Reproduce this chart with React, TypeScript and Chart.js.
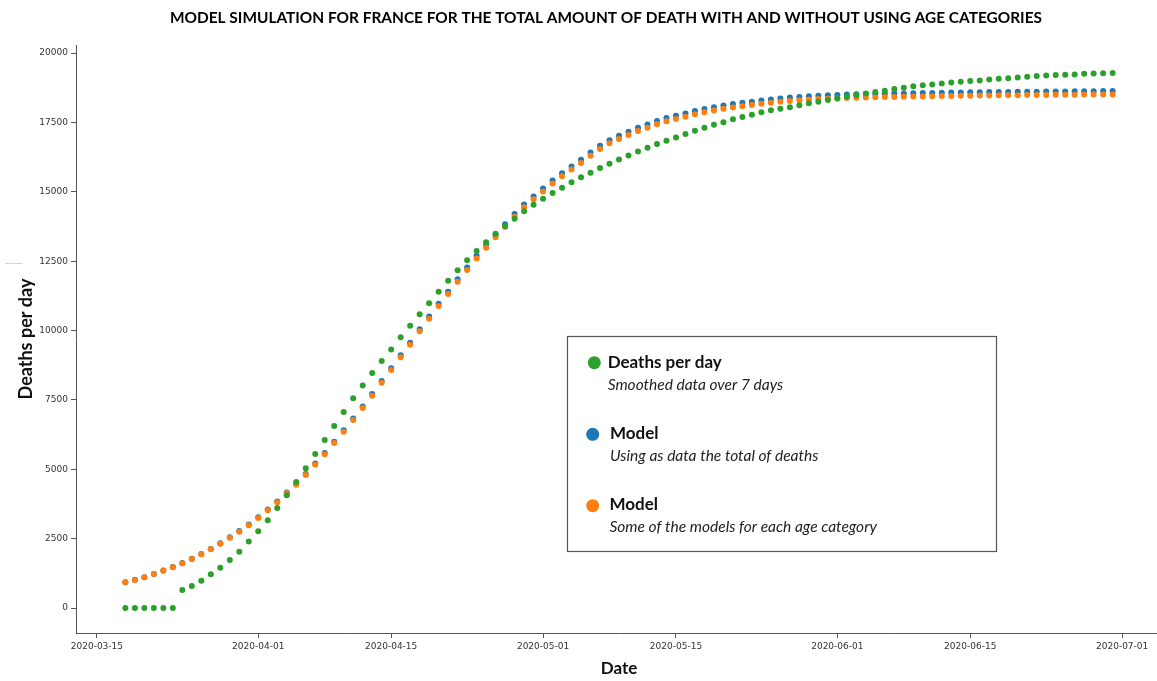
import React, { useEffect, useRef } from 'react';
import { Chart, registerables } from 'chart.js';

Chart.register(...registerables);

// ---------------- data ----------------
const startDate = '2020-03-18'; // one point per day from this date

const deathsPerDay = [
  // March 18 - 31
  0, 0, 0, 0, 0, 0, 650, 790, 985, 1215, 1450, 1730, 2030, 2400,
  // April
  2764, 3160, 3604, 4061, 4541, 5034, 5550, 6054, 6559, 7063,
  7560, 8015, 8470, 8900, 9320, 9755, 10175, 10590, 10985, 11395,
  11795, 12170, 12530, 12865, 13180, 13490, 13765, 14030, 14295, 14535,
  // May
  14750, 14955, 15150, 15340, 15520, 15690, 15860, 16010, 16165, 16310,
  16455, 16585, 16720, 16840, 16960, 17080, 17200, 17310, 17415, 17510,
  17610, 17695, 17775, 17865, 17935, 17990, 18050, 18115, 18190, 18245, 18305,
  // June
  18365, 18425, 18485, 18545, 18595, 18640, 18700, 18750, 18800, 18835,
  18870, 18905, 18940, 18965, 18990, 19015, 19050, 19075, 19095, 19120,
  19145, 19170, 19190, 19205, 19215, 19225, 19250, 19265, 19275, 19285,
];

const modelTotal = [
  // March 18 - 31
  930, 1015, 1110, 1230, 1352, 1474, 1620, 1777, 1949, 2131, 2338, 2550, 2772, 3010,
  // April
  3270, 3550, 3840, 4166, 4480, 4833, 5207, 5585, 5995, 6405,
  6830, 7265, 7712, 8180, 8643, 9106, 9564, 10047, 10505, 10967,
  11400, 11848, 12270, 12692, 13079, 13456, 13828, 14200, 14542, 14834,
  // May
  15120, 15406, 15670, 15912, 16153, 16414, 16655, 16861, 17017, 17163,
  17308, 17429, 17549, 17660, 17740, 17825, 17910, 17985, 18050, 18110,
  18160, 18205, 18248, 18290, 18330, 18365, 18395, 18420, 18442, 18460, 18476,
  // June
  18490, 18502, 18512, 18520, 18527, 18534, 18540, 18546, 18552, 18558,
  18564, 18570, 18575, 18580, 18584, 18588, 18592, 18596, 18599, 18602,
  18605, 18608, 18611, 18614, 18617, 18620, 18623, 18626, 18628, 18630,
];

const modelAgeSum = [
  // March 18 - 31
  925, 1010, 1105, 1225, 1345, 1465, 1610, 1765, 1935, 2115, 2320, 2530, 2750, 2985,
  // April
  3243, 3520, 3808, 4132, 4443, 4793, 5164, 5539, 5946, 6353,
  6775, 7207, 7650, 8115, 8575, 9035, 9490, 9970, 10425, 10884,
  11315, 11760, 12180, 12600, 12985, 13360, 13730, 14100, 14440, 14730,
  // May
  15015, 15300, 15560, 15800, 16040, 16300, 16540, 16745, 16900, 17045,
  17190, 17310, 17430, 17540, 17620, 17705, 17790, 17865, 17930, 17990,
  18040, 18085, 18128, 18170, 18210, 18245, 18275, 18300, 18322, 18340, 18356,
  // June
  18370, 18382, 18392, 18400, 18407, 18414, 18420, 18426, 18432, 18438,
  18444, 18450, 18455, 18460, 18464, 18468, 18472, 18476, 18479, 18482,
  18485, 18488, 18491, 18494, 18497, 18500, 18503, 18506, 18508, 18510,
];

const xTickDates = [
  '2020-03-15', '2020-04-01', '2020-04-15', '2020-05-01',
  '2020-05-15', '2020-06-01', '2020-06-15', '2020-07-01',
];
const yTicks = [0, 2500, 5000, 7500, 10000, 12500, 15000, 17500, 20000];
const yLimits = [-900, 20290];

const seriesLabels = ['Deaths per day', 'Model', 'Model'];
const seriesNotes = [
  'Smoothed data over 7 days',
  'Using as data the total of deaths',
  'Some of the models for each age category',
];
const seriesColors = ['#2ca02c', '#1f77b4', '#ff7f0e'];

const titleText =
  'MODEL SIMULATION FOR FRANCE FOR THE TOTAL AMOUNT OF DEATH WITH AND WITHOUT USING AGE CATEGORIES';
const xTitle = 'Date';
const yTitle = 'Deaths per day';

// ---------------- helpers ----------------
const DAY = 86400000;
const toMs = (s: string) => Date.parse(s + 'T00:00:00Z');
const dates = deathsPerDay.map((_, i) => toMs(startDate) + i * DAY);
const toPoints = (vals: number[]) => vals.map((v, i) => ({ x: dates[i], y: v }));

const xSpan = dates[dates.length - 1] - dates[0];
const xMin = dates[0] - 0.05 * xSpan;
const xMax = dates[dates.length - 1] + 0.05 * xSpan;

const FONT = 'Lato, "Open Sans", sans-serif';

const decorPlugin = {
  id: 'decor',
  afterDraw(chart: any) {
    const ctx = chart.ctx as CanvasRenderingContext2D;
    // Title
    ctx.save();
    ctx.font = `bold 16px ${FONT}`;
    const tw = ctx.measureText(titleText).width;
    ctx.translate(606, 18);
    ctx.scale(872 / tw, 1);
    ctx.fillStyle = '#000';
    ctx.textAlign = 'center';
    ctx.textBaseline = 'middle';
    ctx.fillText(titleText, 0, 0);
    ctx.restore();

    // small grey stroke left of the y title (present in the original figure)
    ctx.save();
    ctx.strokeStyle = '#d4d4d4';
    ctx.lineWidth = 1;
    ctx.beginPath();
    ctx.moveTo(5, 263.5);
    ctx.lineTo(22, 263.5);
    ctx.stroke();
    ctx.restore();

    // Legend box
    ctx.save();
    ctx.strokeStyle = '#555';
    ctx.lineWidth = 1.2;
    ctx.fillStyle = '#fff';
    ctx.fillRect(567.5, 336.5, 429, 215);
    ctx.strokeRect(567.5, 336.5, 429, 215);

    const rows = [
      { ds: 0, dotX: 594.3, dotY: 362.7, textX: 607.7, labelY: 363, noteY: 385 },
      { ds: 2, dotX: 592.7, dotY: 434.3, textX: 610, labelY: 434, noteY: 456 },
      { ds: 1, dotX: 592.7, dotY: 505.7, textX: 609.5, labelY: 505, noteY: 527 },
    ];
    const legendIdx = [0, 1, 2];
    rows.forEach((r, k) => {
      const dataset = chart.data.datasets[r.ds];
      const li = legendIdx[k];
      ctx.beginPath();
      ctx.arc(r.dotX, r.dotY, 6.5, 0, Math.PI * 2);
      ctx.fillStyle = dataset.backgroundColor;
      ctx.fill();
      ctx.fillStyle = '#111';
      ctx.textAlign = 'left';
      ctx.textBaseline = 'middle';
      ctx.font = `bold 17px ${FONT}`;
      ctx.fillText(seriesLabels[li], r.textX, r.labelY);
      ctx.fillStyle = '#222';
      ctx.font = `italic 15.5px ${FONT}`;
      ctx.fillText(seriesNotes[li], r.textX, r.noteY);
    });
    ctx.restore();
  },
};

export default function App() {
  const canvasRef = useRef<HTMLCanvasElement | null>(null);

  useEffect(() => {
    if (!canvasRef.current) return;
    const tickFont = { family: '"DejaVu Sans", sans-serif', size: 9 };
    const chart = new Chart(canvasRef.current, {
      type: 'scatter',
      data: {
        datasets: [
          {
            label: seriesLabels[0],
            data: toPoints(deathsPerDay),
            backgroundColor: seriesColors[0],
            borderColor: seriesColors[0],
            pointRadius: 3,
            pointBorderWidth: 0,
          },
          {
            label: seriesLabels[2],
            data: toPoints(modelAgeSum),
            backgroundColor: seriesColors[2],
            borderColor: seriesColors[2],
            pointRadius: 3,
            pointBorderWidth: 0,
          },
          {
            label: seriesLabels[1],
            data: toPoints(modelTotal),
            backgroundColor: seriesColors[1],
            borderColor: seriesColors[1],
            pointRadius: 3,
            pointBorderWidth: 0,
          },
        ],
      },
      options: {
        animation: false,
        responsive: false,
        devicePixelRatio: 1,
        layout: { padding: { top: 45, left: 0, right: 0, bottom: 0 } },
        plugins: {
          legend: { display: false },
          tooltip: { enabled: false },
          title: { display: false },
        },
        scales: {
          x: {
            type: 'linear',
            min: xMin,
            max: xMax,
            afterBuildTicks: (s: any) => {
              s.ticks = xTickDates.map((d) => ({ value: toMs(d) }));
            },
            afterFit: (s: any) => {
              s.height = 48;
            },
            ticks: {
              autoSkip: false,
              maxRotation: 0,
              padding: 3,
              color: '#333',
              font: tickFont,
              callback: (v: any) => new Date(Number(v)).toISOString().slice(0, 10),
            },
            grid: { drawOnChartArea: false, tickLength: 5, tickColor: '#555', tickWidth: 1 },
            border: { color: '#555', width: 1 },
            title: {
              display: true,
              text: xTitle,
              color: '#111',
              font: { family: FONT, size: 17, weight: 'bold' },
              padding: { top: 0, bottom: 2 },
            },
          },
          y: {
            type: 'linear',
            min: yLimits[0],
            max: yLimits[1],
            afterBuildTicks: (s: any) => {
              s.ticks = yTicks.map((v) => ({ value: v }));
            },
            afterFit: (s: any) => {
              s.width = 76;
            },
            ticks: {
              autoSkip: false,
              padding: 3,
              color: '#333',
              font: tickFont,
              callback: (v: any) => String(v),
            },
            grid: { drawOnChartArea: false, tickLength: 5, tickColor: '#555', tickWidth: 1 },
            border: { color: '#555', width: 1 },
            title: {
              display: true,
              text: yTitle,
              color: '#111',
              font: { family: FONT, size: 18, weight: 'bold' },
              padding: { top: 15, bottom: 0 },
            },
          },
        },
      },
      plugins: [decorPlugin],
    } as any);
    return () => chart.destroy();
  }, []);

  return (
    <div
      style={{
        position: 'fixed',
        left: 0,
        top: 0,
        width: 1157,
        height: 681,
        overflow: 'hidden',
        background: '#fff',
      }}
    >
      <canvas ref={canvasRef} width={1166} height={681} style={{ display: 'block' }} />
    </div>
  );
}
